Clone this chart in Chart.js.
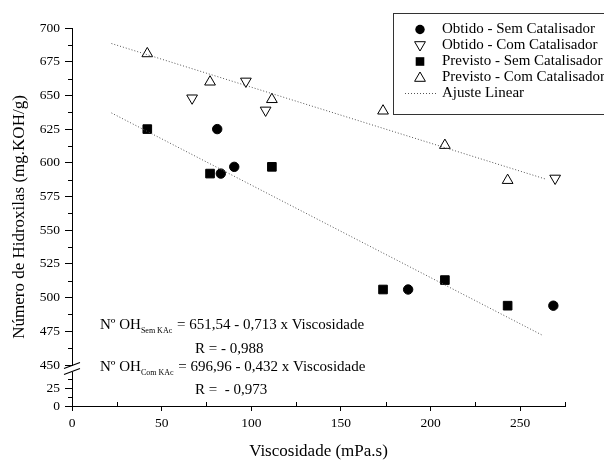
<!DOCTYPE html>
<html>
<head>
<meta charset="utf-8">
<script src="https://cdn.jsdelivr.net/npm/chart.js@4.4.1/dist/chart.umd.min.js"></script>
<style>
  html, body { margin: 0; padding: 0; background: #fff; }
</style>
</head>
<body>
<canvas id="grafico" width="604" height="461"></canvas>
<script>
// valores
const obtidoSemX = [81, 83, 90.5, 187.5, 268.5];
const obtidoSemY = [625, 592, 597, 506, 494];
const obtidoComX = [67, 97, 108, 269.5];
const obtidoComY = [648, 660.5, 639, 588.5];
const previstoSemX = [42, 77, 111.5, 173.5, 208, 243];
const previstoSemY = [625, 592, 597, 506, 513, 494];
const previstoComX = [42, 77, 111.5, 173.5, 208, 243];
const previstoComY = [681, 660, 647, 638.5, 613, 587];
// extremos das retas de ajuste
const ajusteSemX = [22, 262.5];
const ajusteSemY = [637, 472];
const ajusteComX = [22, 264];
const ajusteComY = [688.5, 588];

const ticksX = [0, 25, 50, 75, 100, 125, 150, 175, 200, 225, 250, 275];
const ticksYAlto = [450, 462.5, 475, 487.5, 500, 512.5, 525, 537.5, 550, 562.5, 575, 587.5,
  600, 612.5, 625, 637.5, 650, 662.5, 675, 687.5, 700];
const ticksYBaixo = [0, 12.5, 25, 37.5];

const legendaTextos = ['Obtido - Sem Catalisador', 'Obtido - Com Catalisador',
  'Previsto - Sem Catalisador', 'Previsto - Com Catalisador', 'Ajuste Linear'];

const FONTE = '"Liberation Serif", "Times New Roman", serif';

const pares = (xs, ys) => xs.map((x, i) => ({ x: x, y: ys[i] }));

// ticks menores ficam transparentes; sao desenhados mais curtos no plugin
const corTickX = c => (c.tick && c.tick.value % 50 ? 'rgba(0,0,0,0)' : '#000');
const corTickY = c => (c.tick && c.tick.value % 25 ? 'rgba(0,0,0,0)' : '#000');

function marcador(ctx, tipo, x, y) {
  ctx.save();
  ctx.strokeStyle = '#000';
  ctx.fillStyle = '#000';
  ctx.lineWidth = 1;
  ctx.beginPath();
  if (tipo === 'circulo') {
    ctx.arc(x, y, 4.7, 0, Math.PI * 2);
    ctx.fill();
  } else if (tipo === 'quadrado') {
    ctx.fillRect(x - 4.3, y - 4.3, 8.6, 8.6);
  } else if (tipo === 'tri') {
    ctx.moveTo(x, y - 5.5);
    ctx.lineTo(x + 5.4, y + 3.8);
    ctx.lineTo(x - 5.4, y + 3.8);
    ctx.closePath();
    ctx.stroke();
  } else if (tipo === 'triInv') {
    ctx.moveTo(x, y + 5.5);
    ctx.lineTo(x + 5.4, y - 3.8);
    ctx.lineTo(x - 5.4, y - 3.8);
    ctx.closePath();
    ctx.stroke();
  } else {
    ctx.strokeStyle = '#555';
    ctx.setLineDash([1, 2]);
    ctx.moveTo(x - 15, y);
    ctx.lineTo(x + 17, y);
    ctx.stroke();
  }
  ctx.restore();
}

function equacao(ctx, x, y, sub, resto) {
  ctx.font = '15px ' + FONTE;
  ctx.fillText('Nº OH', x, y);
  let w = ctx.measureText('Nº OH').width;
  ctx.font = '8px ' + FONTE;
  ctx.fillText(sub, x + w, y + 6);
  w += ctx.measureText(sub).width + 1;
  ctx.font = '15px ' + FONTE;
  ctx.fillText(resto, x + w, y);
}

const extras = {
  id: 'extras',
  afterDraw(chart) {
    const ctx = chart.ctx;
    const area = chart.chartArea;
    const sx = chart.scales.x;
    const yAlto = chart.scales.y;
    const yBaixo = chart.scales.yBaixo;

    // ticks menores
    ctx.save();
    ctx.strokeStyle = '#000';
    ctx.lineWidth = 1;
    ctx.beginPath();
    ticksX.filter(v => v % 50).forEach(v => {
      const px = Math.round(sx.getPixelForValue(v)) + 0.5;
      ctx.moveTo(px, area.bottom);
      ctx.lineTo(px, area.bottom - 4);
    });
    ticksYAlto.filter(v => v % 25).forEach(v => {
      const py = Math.round(yAlto.getPixelForValue(v)) + 0.5;
      ctx.moveTo(area.left, py);
      ctx.lineTo(area.left - 4, py);
    });
    ticksYBaixo.filter(v => v % 25).forEach(v => {
      const py = Math.round(yBaixo.getPixelForValue(v)) + 0.5;
      ctx.moveTo(area.left, py);
      ctx.lineTo(area.left - 4, py);
    });
    ctx.stroke();
    ctx.restore();

    // quebra do eixo
    const yq = yAlto.getPixelForValue(450) + 4;
    ctx.save();
    ctx.fillStyle = '#fff';
    ctx.fillRect(area.left - 1, yq - 3, 3, 6);
    ctx.strokeStyle = '#000';
    ctx.lineWidth = 1.2;
    ctx.beginPath();
    ctx.moveTo(area.left - 8, yq - 0.5);
    ctx.lineTo(area.left + 8, yq - 6.5);
    ctx.moveTo(area.left - 8, yq + 5.5);
    ctx.lineTo(area.left + 8, yq - 0.5);
    ctx.stroke();
    ctx.restore();

    // titulo do eixo y
    ctx.save();
    ctx.fillStyle = '#000';
    ctx.font = '17px ' + FONTE;
    ctx.textAlign = 'center';
    ctx.textBaseline = 'middle';
    ctx.translate(20, (area.top + area.bottom) / 2);
    ctx.rotate(-Math.PI / 2);
    ctx.fillText('Número de Hidroxilas (mg.KOH/g)', 0, 0);
    ctx.restore();

    // equacoes
    ctx.save();
    ctx.fillStyle = '#000';
    ctx.textBaseline = 'middle';
    equacao(ctx, 100, 325, 'Sem KAc', ' = 651,54 - 0,713 x Viscosidade');
    ctx.font = '15px ' + FONTE;
    ctx.fillText('R = - 0,988', 195, 349);
    equacao(ctx, 100, 367, 'Com KAc', ' = 696,96 - 0,432 x Viscosidade');
    ctx.font = '15px ' + FONTE;
    ctx.fillText('R =  - 0,973', 195, 390);
    ctx.restore();

    // legenda
    ctx.save();
    ctx.fillStyle = '#fff';
    ctx.fillRect(393, 13, 220, 101);
    ctx.strokeStyle = '#333';
    ctx.lineWidth = 1;
    ctx.strokeRect(393.5, 13.5, 220, 101);
    const tipos = ['circulo', 'triInv', 'quadrado', 'tri', 'linha'];
    ctx.font = '15px ' + FONTE;
    ctx.textBaseline = 'middle';
    legendaTextos.forEach((t, i) => {
      const yy = 29.5 + i * 16;
      marcador(ctx, tipos[i], 420, yy);
      ctx.fillStyle = '#000';
      ctx.fillText(t, 442, yy);
    });
    ctx.restore();
  }
};

new Chart(document.getElementById('grafico'), {
  type: 'scatter',
  data: {
    datasets: [
      {
        label: 'Ajuste Sem', data: pares(ajusteSemX, ajusteSemY), showLine: true,
        borderColor: '#555', borderWidth: 1, borderDash: [1, 2], pointRadius: 0, yAxisID: 'y'
      },
      {
        label: 'Ajuste Com', data: pares(ajusteComX, ajusteComY), showLine: true,
        borderColor: '#555', borderWidth: 1, borderDash: [1, 2], pointRadius: 0, yAxisID: 'y'
      },
      {
        label: legendaTextos[0], data: pares(obtidoSemX, obtidoSemY), pointStyle: 'circle',
        pointRadius: 4.7, backgroundColor: '#000', borderColor: '#000', yAxisID: 'y'
      },
      {
        label: legendaTextos[1], data: pares(obtidoComX, obtidoComY), pointStyle: 'triangle',
        rotation: 180, pointRadius: 6.2, backgroundColor: 'rgba(0,0,0,0)', borderColor: '#000',
        borderWidth: 1, yAxisID: 'y'
      },
      {
        label: legendaTextos[2], data: pares(previstoSemX, previstoSemY), pointStyle: 'rect',
        pointRadius: 6.1, backgroundColor: '#000', borderColor: '#000', yAxisID: 'y'
      },
      {
        label: legendaTextos[3], data: pares(previstoComX, previstoComY), pointStyle: 'triangle',
        pointRadius: 6.2, backgroundColor: 'rgba(0,0,0,0)', borderColor: '#000',
        borderWidth: 1, yAxisID: 'y'
      }
    ]
  },
  options: {
    responsive: false,
    animation: false,
    devicePixelRatio: 1,
    layout: { padding: { top: 28, right: 39, left: 0, bottom: 0 } },
    plugins: {
      legend: { display: false },
      tooltip: { enabled: false }
    },
    scales: {
      x: {
        type: 'linear', min: 0, max: 275,
        afterBuildTicks: s => { s.ticks = ticksX.map(v => ({ value: v })); },
        afterFit: s => { s.height = 55; },
        grid: { drawOnChartArea: false, tickLength: 5, color: '#000', tickColor: corTickX },
        border: { color: '#000', width: 1 },
        ticks: {
          color: '#000', padding: 4, maxRotation: 0, autoSkip: false,
          font: { family: FONTE, size: 13.5 },
          callback: v => (v % 50 === 0 ? v : '')
        },
        title: {
          display: true, text: 'Viscosidade (mPa.s)', color: '#000',
          font: { family: FONTE, size: 17 }, padding: { top: 0, bottom: -1 }
        }
      },
      y: {
        type: 'linear', min: 450, max: 700, position: 'left',
        stack: 'eixo', stackWeight: 337, weight: 1,
        afterBuildTicks: s => { s.ticks = ticksYAlto.map(v => ({ value: v })); },
        afterFit: s => { s.width = 72; },
        grid: { drawOnChartArea: false, tickLength: 7, color: '#000', tickColor: corTickY },
        border: { color: '#000', width: 1 },
        ticks: {
          color: '#000', padding: 5, autoSkip: false,
          font: { family: FONTE, size: 13.5 },
          callback: v => (v % 25 === 0 ? v : '')
        }
      },
      yBaixo: {
        type: 'linear', min: 0, max: 57.5, position: 'left',
        stack: 'eixo', stackWeight: 41, weight: 0,
        afterBuildTicks: s => { s.ticks = ticksYBaixo.map(v => ({ value: v })); },
        afterFit: s => { s.width = 72; },
        grid: { drawOnChartArea: false, tickLength: 7, color: '#000', tickColor: corTickY },
        border: { color: '#000', width: 1 },
        ticks: {
          color: '#000', padding: 5, autoSkip: false,
          font: { family: FONTE, size: 13.5 },
          callback: v => (v % 25 === 0 ? v : '')
        }
      }
    }
  },
  plugins: [extras]
});
</script>
</body>
</html>
